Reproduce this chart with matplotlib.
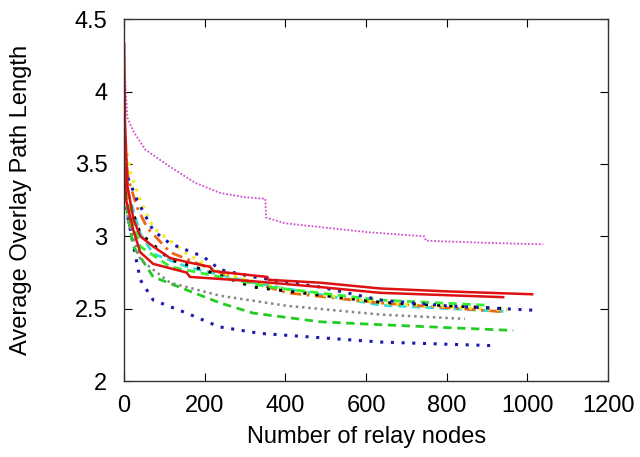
import numpy as np
import matplotlib.pyplot as plt

plt.rcParams['font.family'] = ['Liberation Sans', 'DejaVu Sans']

# curves: (x points, y points)
magenta_x = [0, 3, 8, 22, 52, 114, 176, 238, 300, 350, 352, 400, 500, 600, 745, 748, 900, 1039]
magenta_y = [4.17, 4.05, 3.82, 3.73, 3.6, 3.48, 3.37, 3.3, 3.27, 3.26, 3.13, 3.09, 3.06, 3.03, 3.0, 2.97, 2.955, 2.945]

redA_x = [0, 2, 8, 23, 40, 72, 114, 160, 213, 221, 320, 355, 358, 486, 635, 800, 1012]
redA_y = [4.33, 3.8, 3.35, 3.12, 3.0, 2.93, 2.85, 2.82, 2.79, 2.76, 2.73, 2.72, 2.7, 2.68, 2.64, 2.62, 2.60]

redB_x = [0, 5, 23, 40, 72, 155, 163, 320, 486, 635, 940]
redB_y = [3.5, 3.25, 3.04, 2.89, 2.81, 2.75, 2.72, 2.69, 2.65, 2.61, 2.58]

blue_up_x = [0, 10, 32, 72, 114, 196, 238, 320, 486, 635, 800, 1014]
blue_up_y = [3.55, 3.4, 3.25, 3.04, 2.95, 2.86, 2.77, 2.72, 2.65, 2.56, 2.52, 2.49]

green_up_x = [0, 5, 15, 40, 114, 238, 360, 635, 895]
green_up_y = [3.7, 3.4, 3.16, 2.93, 2.79, 2.72, 2.65, 2.56, 2.525]

cyan_x = [0, 10, 40, 72, 155, 320, 635, 950]
cyan_y = [3.6, 3.3, 3.02, 2.88, 2.79, 2.68, 2.525, 2.48]

orange_x = [0, 10, 32, 57, 114, 238, 404, 635, 937]
orange_y = [3.65, 3.4, 3.2, 3.06, 2.89, 2.75, 2.61, 2.54, 2.48]

yellow_x = [0, 15, 40, 72, 155, 238, 404, 635, 950]
yellow_y = [3.7, 3.45, 3.25, 3.06, 2.88, 2.75, 2.63, 2.54, 2.49]

black_x = [0, 10, 40, 114, 196, 320, 635, 950]
black_y = [3.55, 3.25, 3.02, 2.84, 2.77, 2.65, 2.545, 2.50]

gray_x = [0, 10, 40, 114, 238, 404, 635, 845]
gray_y = [3.45, 3.1, 2.84, 2.68, 2.59, 2.52, 2.46, 2.43]

green_lo_x = [0, 8, 23, 72, 155, 238, 320, 486, 635, 965]
green_lo_y = [3.5, 3.15, 2.93, 2.72, 2.63, 2.54, 2.47, 2.41, 2.39, 2.35]

blue_lo_x = [0, 7, 40, 72, 155, 236, 337, 486, 635, 915]
blue_lo_y = [3.5, 3.16, 2.70, 2.56, 2.47, 2.375, 2.33, 2.30, 2.27, 2.245]

fig = plt.figure(figsize=(6.4, 4.57), dpi=100)
ax = fig.add_axes([0.194, 0.166, 0.756, 0.792])

ax.plot(magenta_x, magenta_y, color='#d050d0', ls=(0, (1, 1)), lw=1.3)
ax.plot(blue_lo_x, blue_lo_y, color='#1a1ab0', ls=(0, (1, 2.5)), lw=2.2)
ax.plot(green_lo_x, green_lo_y, color='#22cc22', ls=(0, (3, 2)), lw=2.0)
ax.plot(gray_x, gray_y, color='#888888', ls=(0, (1, 1.5)), lw=1.8)
ax.plot(cyan_x, cyan_y, color='#33dddd', ls=(0, (3, 2)), lw=2.0)
ax.plot(orange_x, orange_y, color='#ee6611', ls=(0, (4, 2, 1, 2)), lw=2.0)
ax.plot(yellow_x, yellow_y, color='#eeee22', ls=(0, (1, 2)), lw=2.2)
ax.plot(black_x, black_y, color='black', ls=(0, (1, 3)), lw=2.2)
ax.plot(green_up_x, green_up_y, color='#33ee33', ls=(0, (3, 2)), lw=2.0)
ax.plot(blue_up_x, blue_up_y, color='#1a1ab0', ls=(0, (1, 2.5)), lw=2.2)
ax.plot(redB_x, redB_y, color='#dd1111', ls='-', lw=1.8)
ax.plot(redA_x, redA_y, color='#dd1111', ls='-', lw=1.8)

ax.set_xlim(0, 1200)
ax.set_ylim(2, 4.5)
ax.set_xticks(np.arange(0, 1201, 200))
ax.set_yticks([2, 2.5, 3, 3.5, 4, 4.5])
ax.set_yticklabels(['2', '2.5', '3', '3.5', '4', '4.5'])
ax.tick_params(direction='in', top=True, right=True, length=6, labelsize=17)
ax.tick_params(axis='x', pad=10)
ax.tick_params(axis='y', pad=12)
for s in ax.spines.values():
    s.set_linewidth(1.0)
    s.set_color('#333333')

ax.set_xlabel('Number of relay nodes', fontsize=17)
ax.set_ylabel('Average Overlay Path Length', fontsize=17)
ax.xaxis.set_label_coords(0.5, -0.125)
ax.yaxis.set_label_coords(-0.19, 0.5)

fig.savefig('out.png', dpi=100)
